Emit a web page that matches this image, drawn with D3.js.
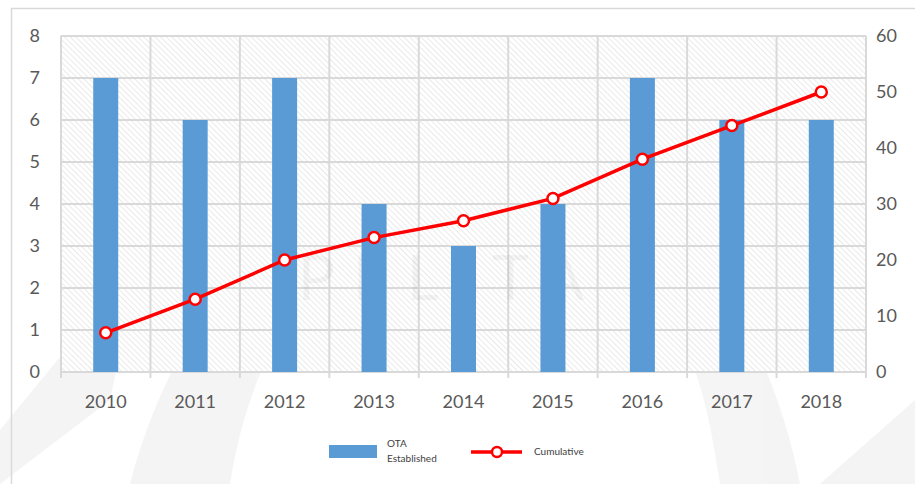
<!DOCTYPE html>
<html lang="en">
<head>
<meta charset="UTF-8">
<title>OTA Established</title>
<script src="https://d3js.org/d3.v7.min.js"></script>
<style>
body { margin: 0; background: #fff; }
svg text { font-family: Lato, "Open Sans", sans-serif; }
</style>
</head>
<body>
<svg width="915" height="484"></svg>
<script>
var years = ['2010', '2011', '2012', '2013', '2014', '2015', '2016', '2017', '2018'];
var established = [7, 6, 7, 4, 3, 4, 7, 6, 6];
var cumulative = [7, 13, 20, 24, 27, 31, 38, 44, 50];
var leftTicks = [0, 1, 2, 3, 4, 5, 6, 7, 8];
var rightTicks = [0, 10, 20, 30, 40, 50, 60];

var svg = d3.select('svg');
var plotL = 61, plotR = 866, plotT = 36, plotB = 372;

// hatch pattern for the plot area
var pat = svg.append('defs').append('pattern')
    .attr('id', 'hatch')
    .attr('width', 4).attr('height', 4)
    .attr('patternUnits', 'userSpaceOnUse')
    .attr('patternTransform', 'rotate(45)');
pat.append('rect').attr('width', 4).attr('height', 4).attr('fill', '#fff');
pat.append('line').attr('x1', 0).attr('y1', 0).attr('x2', 4).attr('y2', 0)
    .attr('stroke', '#dcdcdc').attr('stroke-width', 1.2);

// faint watermark (under everything)
var wm = svg.append('g').attr('opacity', 0.04);
wm.append('path')
    .attr('d', 'M130,484 C170,330 260,230 330,200 L300,300 C260,360 240,420 230,484 Z')
    .attr('fill', '#000');
wm.append('path')
    .attr('d', 'M800,484 C770,330 690,230 640,200 L660,300 C700,360 710,420 720,484 Z')
    .attr('fill', '#000');
wm.append('path')
    .attr('d', 'M0,430 L140,260 L110,400 L0,484 Z')
    .attr('fill', '#000');
wm.append('path')
    .attr('d', 'M915,400 L820,484 L915,484 Z')
    .attr('fill', '#000');

// outer frame
svg.append('path').attr('d', 'M11.5,484 V8.5 H915')
    .attr('fill', 'none').attr('stroke', '#d9d9d9').attr('stroke-width', 1.5);

var x = d3.scaleBand().domain(years).range([plotL, plotR]);
var yL = d3.scaleLinear().domain([0, 8]).range([plotB, plotT]);
var yR = d3.scaleLinear().domain([0, 60]).range([plotB, plotT]);

svg.append('rect')
    .attr('x', plotL).attr('y', plotT)
    .attr('width', plotR - plotL).attr('height', plotB - plotT)
    .attr('fill', 'url(#hatch)')
    .attr('stroke', '#d9d9d9');

// horizontal grid
svg.append('g').selectAll('line').data(leftTicks).enter().append('line')
    .attr('x1', plotL).attr('x2', plotR)
    .attr('y1', function(d) { return yL(d); }).attr('y2', function(d) { return yL(d); })
    .attr('stroke', '#d9d9d9').attr('stroke-width', 2);

// vertical grid + ticks at category boundaries
var bounds = years.map(function(d) { return x(d); }).concat([plotR]);
svg.append('g').selectAll('line').data(bounds).enter().append('line')
    .attr('x1', function(d) { return d; }).attr('x2', function(d) { return d; })
    .attr('y1', plotT).attr('y2', plotB + 6)
    .attr('stroke', '#d9d9d9').attr('stroke-width', 2);

// watermark text
svg.append('text')
    .attr('x', 450).attr('y', 300)
    .attr('text-anchor', 'middle')
    .attr('font-size', 62)
    .attr('letter-spacing', 18)
    .attr('fill', '#000').attr('fill-opacity', 0.04)
    .text('PELITA');

// bars
var bw = 25;
svg.append('g').selectAll('rect').data(established).enter().append('rect')
    .attr('x', function(d, i) { return x(years[i]) + x.bandwidth() / 2 - bw / 2; })
    .attr('y', function(d) { return yL(d); })
    .attr('width', bw)
    .attr('height', function(d) { return plotB - yL(d); })
    .attr('fill', '#5b9bd5');

// line
var line = d3.line()
    .x(function(d, i) { return x(years[i]) + x.bandwidth() / 2; })
    .y(function(d) { return yR(d); });
svg.append('path').datum(cumulative)
    .attr('d', line)
    .attr('fill', 'none').attr('stroke', '#ff0000').attr('stroke-width', 3.5);
svg.append('g').selectAll('circle').data(cumulative).enter().append('circle')
    .attr('cx', function(d, i) { return x(years[i]) + x.bandwidth() / 2; })
    .attr('cy', function(d) { return yR(d); })
    .attr('r', 5.5)
    .attr('fill', '#fff').attr('stroke', '#ff0000').attr('stroke-width', 2.5);

// axis labels
svg.append('g').selectAll('text').data(leftTicks).enter().append('text')
    .attr('x', 40).attr('y', function(d) { return yL(d) + 6; })
    .attr('text-anchor', 'end').attr('font-size', 18).attr('fill', '#595959')
    .text(function(d) { return d; });
svg.append('g').selectAll('text').data(rightTicks).enter().append('text')
    .attr('x', 876).attr('y', function(d) { return yR(d) + 6; })
    .attr('text-anchor', 'start').attr('font-size', 18).attr('fill', '#595959')
    .text(function(d) { return d; });
svg.append('g').selectAll('text').data(years).enter().append('text')
    .attr('x', function(d) { return x(d) + x.bandwidth() / 2; })
    .attr('y', 408)
    .attr('text-anchor', 'middle').attr('font-size', 18).attr('fill', '#595959')
    .text(function(d) { return d; });

// legend
var lg = svg.append('g');
lg.append('rect').attr('x', 329).attr('y', 445).attr('width', 48).attr('height', 13).attr('fill', '#5b9bd5');
lg.append('text').attr('x', 387).attr('y', 447).attr('font-size', 10).attr('fill', '#404040').text('OTA');
lg.append('text').attr('x', 387).attr('y', 462).attr('font-size', 10).attr('fill', '#404040').text('Established');
lg.append('line').attr('x1', 471).attr('x2', 522).attr('y1', 452).attr('y2', 452)
    .attr('stroke', '#ff0000').attr('stroke-width', 3.5);
lg.append('circle').attr('cx', 497).attr('cy', 452).attr('r', 5)
    .attr('fill', '#fff').attr('stroke', '#ff0000').attr('stroke-width', 2.5);
lg.append('text').attr('x', 534).attr('y', 455).attr('font-size', 10).attr('fill', '#404040').text('Cumulative');
</script>
</body>
</html>
